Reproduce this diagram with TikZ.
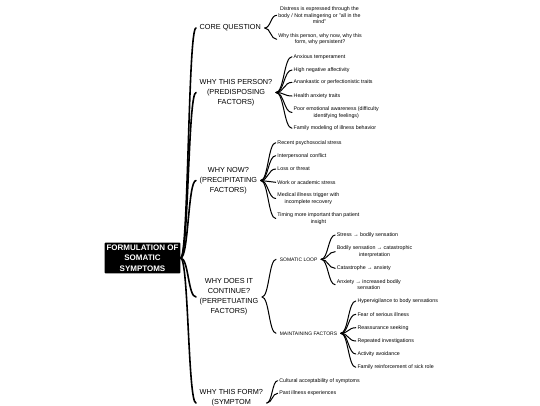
\documentclass[tikz,border=0pt]{standalone}
\usepackage{fontspec}
\setmainfont{Liberation Sans}
\begin{document}
\begin{tikzpicture}[x=1pt,y=-1pt,line join=round,line cap=round,font=\fontsize{5.3}{6.5}\selectfont]
	\tikzset{rootbox/.style={fill=black,text=white,font=\fontsize{8}{10.6}\selectfont\bfseries,align=center,inner xsep=2pt,inner ysep=2pt,rounded corners=1pt},
		branch/.style={anchor=west,align=center,inner xsep=3.5pt,inner ysep=1.5pt,font=\fontsize{7.3}{10}\selectfont},
		sub/.style={anchor=west,inner xsep=3.5pt,inner ysep=1.5pt,font=\fontsize{5}{6.4}\selectfont},
		leaf/.style={anchor=west,align=center,inner sep=1.5pt},
		trunk/.style={line width=1.6pt},
		link/.style={line width=1pt}}
	\useasboundingbox (0,0) rectangle (540,405);
	\clip (0,0) rectangle (540,405);
	\node[rootbox] (root) at (142.5,258) {FORMULATION OF\\SOMATIC\\SYMPTOMS};
	\node[branch] (core) at (196,28) {CORE QUESTION};
	\node[branch] (person) at (196,92.5) {WHY THIS PERSON?\\(PREDISPOSING\\FACTORS)};
	\node[branch] (now) at (196,180.5) {WHY NOW?\\(PRECIPITATING\\FACTORS)};
	\node[branch] (cont) at (196,297) {WHY DOES IT\\CONTINUE?\\(PERPETUATING\\FACTORS)};
	\node[branch] (form) at (196,398) {WHY THIS FORM?\\(SYMPTOM};
	\foreach \n in {core,person,now,cont}
		\draw[trunk] (root.east) .. controls +(8,0) and +(-8,0) .. (\n.west);
	\draw[trunk] (root.east) .. controls +(8,0) and +(-8,0) .. ([yshift=-5pt]form.west);
	% core question
	\path (core.east) ++(12,0) coordinate (corex);
	\foreach \y/\t [count=\i] in {15.3/{Distress is expressed through the\\body / Not malingering or "all in the\\mind"},
		39.3/{Why this person, why now, why this\\form, why persistent?}}
	{
		\node[leaf] (c\i) at (corex |- 0,\y) {\t};
		\draw[link] (core.east) .. controls +(6,0) and +(-6,0) .. (c\i.west);
	}
	% predisposing
	\path (person.east) ++(16,0) coordinate (personx);
	\foreach \y/\t [count=\i] in {56.7/Anxious temperament, 70/High negative affectivity,
		82.3/Anankastic or perfectionistic traits, 96/Health anxiety traits,
		112.5/{Poor emotional awareness (difficulty\\identifying feelings)}, 128.3/Family modeling of illness behavior}
	{
		\node[leaf] (p\i) at (personx |- 0,\y) {\t};
		\draw[link] (person.east) .. controls +(8,0) and +(-8,0) .. (p\i.west);
	}
	% precipitating
	\path (now.east) ++(15,0) coordinate (nowx);
	\foreach \y/\t [count=\i] in {142.7/Recent psychosocial stress, 155.7/Interpersonal conflict,
		169/Loss or threat, 182.3/Work or academic stress,
		198.5/{Medical illness trigger with\\incomplete recovery}, 218.5/{Timing more important than patient\\insight}}
	{
		\node[leaf] (n\i) at (nowx |- 0,\y) {\t};
		\draw[link] (now.east) .. controls +(7.5,0) and +(-7.5,0) .. (n\i.west);
	}
	% perpetuating
	\path (cont.east) ++(14,0) coordinate (contx);
	\node[sub] (loop) at (contx |- 0,259.3) {SOMATIC LOOP};
	\node[sub] (maint) at (contx |- 0,333.3) {MAINTAINING FACTORS};
	\foreach \n in {loop,maint}
		\draw[link] (cont.east) .. controls +(7,0) and +(-7,0) .. (\n.west);
	\path (loop.east) ++(14,0) coordinate (loopx);
	\foreach \y/\t [count=\i] in {235/Stress → bodily sensation,
		251.7/{Bodily sensation → catastrophic\\interpretation}, 268.3/Catastrophe → anxiety,
		284.7/{Anxiety → increased bodily\\sensation}}
	{
		\node[leaf] (l\i) at (loopx |- 0,\y) {\t};
		\draw[link] (loop.east) .. controls +(7,0) and +(-7,0) .. (l\i.west);
	}
	\path (maint.east) ++(15,0) coordinate (maintx);
	\foreach \y/\t [count=\i] in {301/Hypervigilance to body sensations, 314.3/Fear of serious illness,
		327.7/Reassurance seeking, 341/Repeated investigations,
		354/Activity avoidance, 367.3/Family reinforcement of sick role}
	{
		\node[leaf] (m\i) at (maintx |- 0,\y) {\t};
		\draw[link] (maint.east) .. controls +(7.5,0) and +(-7.5,0) .. (m\i.west);
	}
	% symptom form
	\path ([yshift=-5pt]form.east) ++(11,0) coordinate (formx);
	\foreach \y/\t [count=\i] in {380.7/Cultural acceptability of symptoms, 393.3/Past illness experiences}
	{
		\node[leaf] (f\i) at (formx |- 0,\y) {\t};
		\draw[link] ([yshift=-5pt]form.east) .. controls +(5.5,0) and +(-5.5,0) .. (f\i.west);
	}
\end{tikzpicture}
\end{document}
